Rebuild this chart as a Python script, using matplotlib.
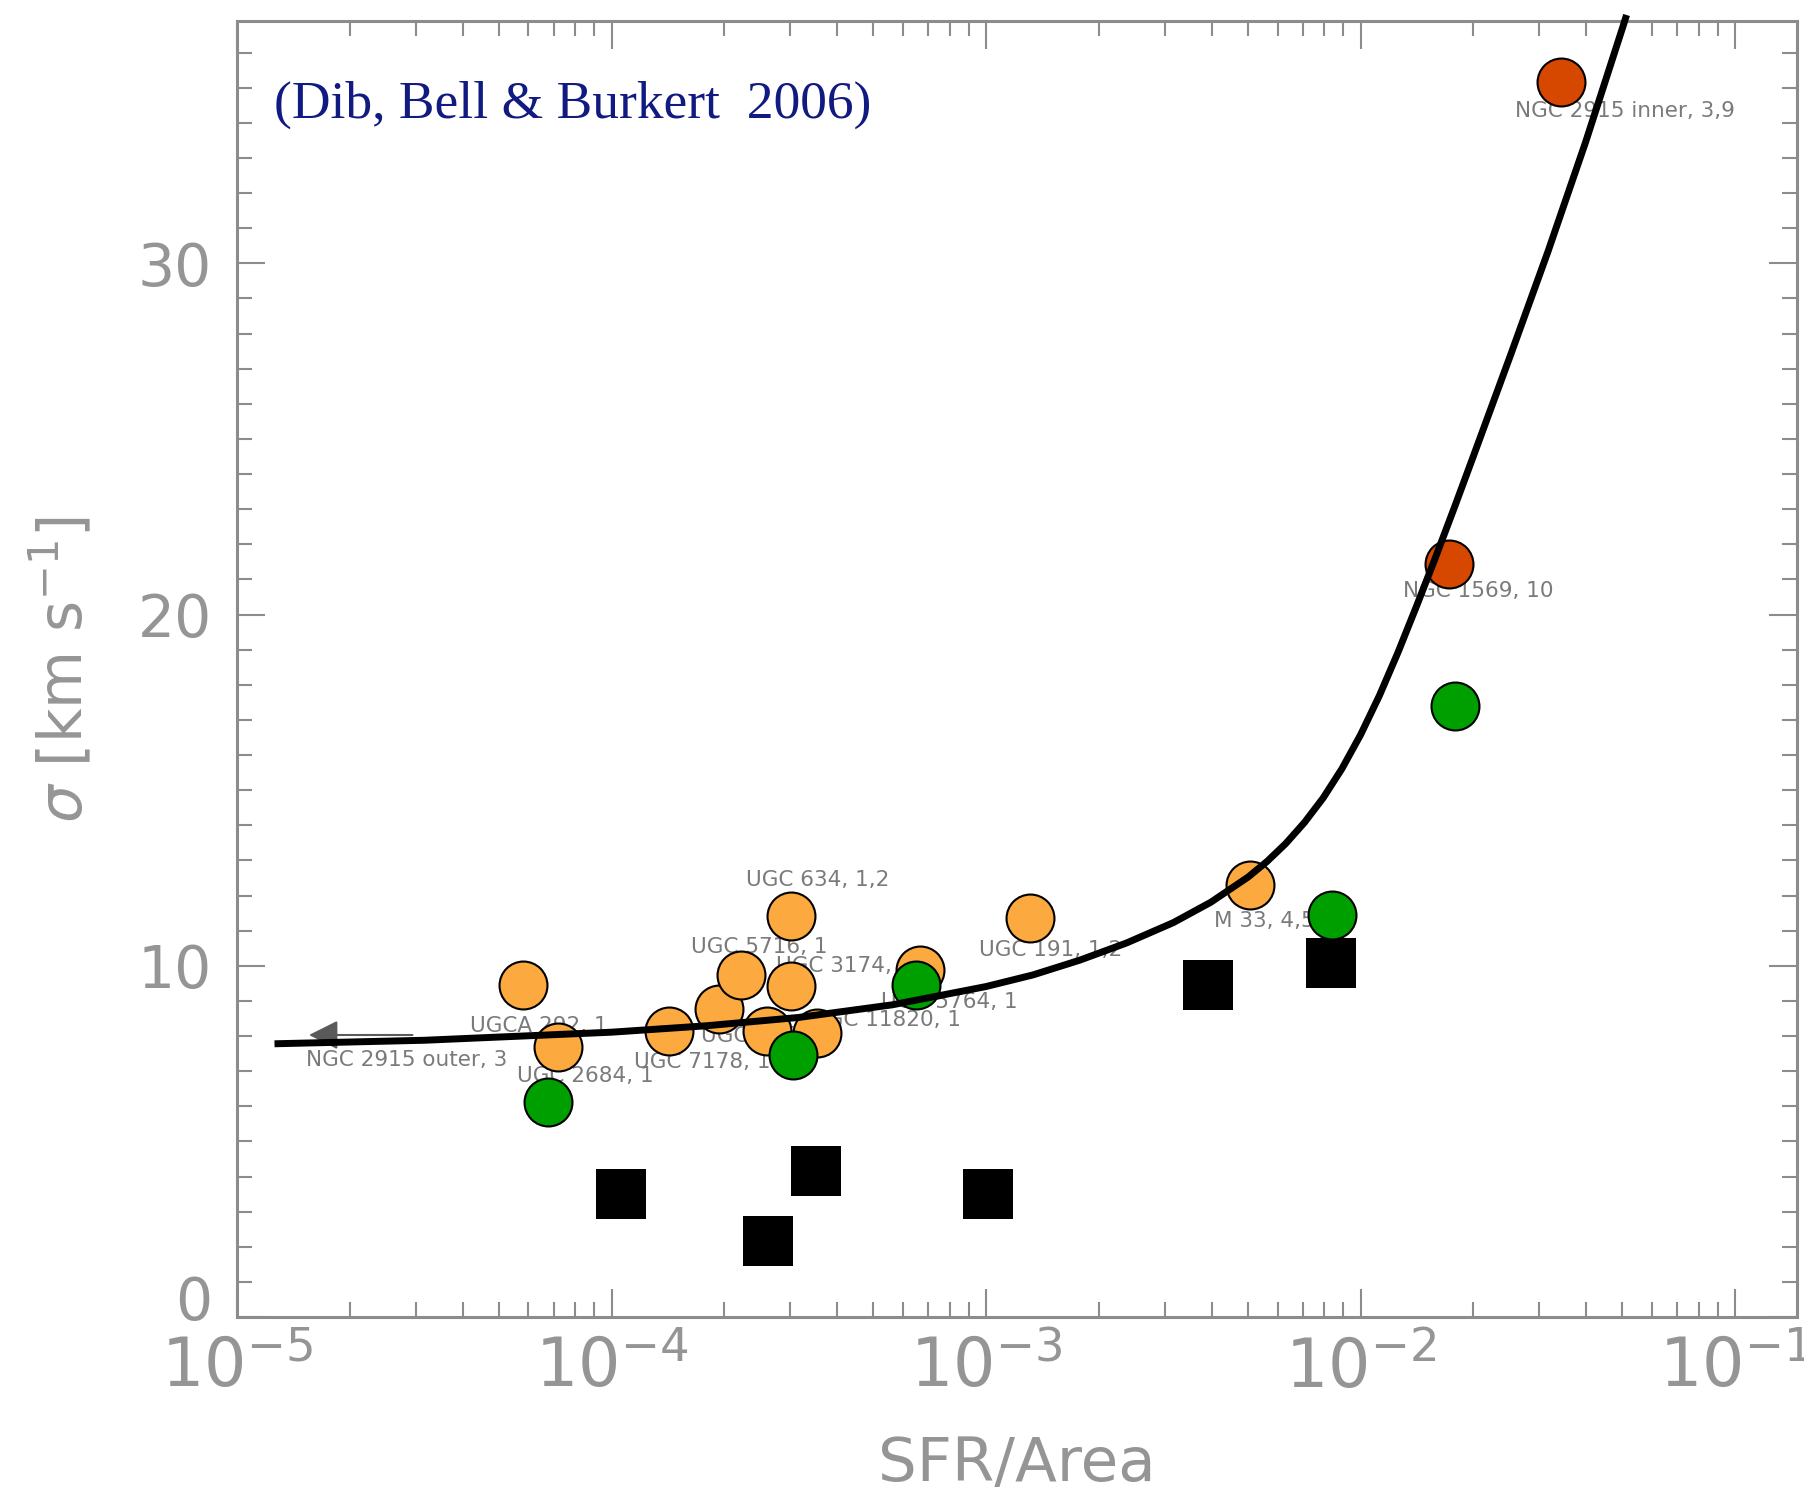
import numpy as np
import matplotlib
matplotlib.use('Agg')
import matplotlib.pyplot as plt
from matplotlib.ticker import FixedLocator, LogLocator, MultipleLocator, NullFormatter
from matplotlib.transforms import ScaledTranslation

# galaxies: SFR per area and velocity dispersion sigma [km/s]
orange_sfr = [5.79e-5, 7.2e-5, 1.42e-4, 1.93e-4, 2.22e-4, 2.6e-4, 3.01e-4, 3.01e-4,
              3.54e-4, 6.67e-4, 1.31e-3, 5.06e-3]
orange_sigma = [9.46, 7.68, 8.13, 8.77, 9.74, 8.13, 11.42, 9.43, 8.1, 9.89, 11.36, 12.29]

green_sfr = [6.75e-5, 3.05e-4, 6.5e-4, 8.39e-3, 1.786e-2]
green_sigma = [6.13, 7.46, 9.46, 11.44, 17.39]

red_sfr = [1.726e-2, 3.43e-2]
red_sigma = [21.44, 35.17]

square_sfr = [1.06e-4, 2.61e-4, 3.52e-4, 1.01e-3, 3.92e-3, 8.32e-3]
square_sigma = [3.50, 2.17, 4.15, 3.50, 9.44, 10.09]

# model curve, log10(SFR/Area) vs sigma
curve_logsfr = [-4.9, -4.5, -4.0, -3.75, -3.5, -3.25, -3.0, -2.875, -2.75, -2.625, -2.5,
                -2.4, -2.3, -2.25, -2.2, -2.15, -2.1, -2.05, -2.0, -1.95, -1.9, -1.85,
                -1.8, -1.75, -1.7, -1.6, -1.5, -1.4, -1.3, -1.29]
curve_sigma = [7.78, 7.88, 8.11, 8.29, 8.53, 8.89, 9.41, 9.74, 10.16, 10.65, 11.23,
               11.81, 12.53, 12.97, 13.48, 14.08, 14.78, 15.61, 16.58, 17.69, 18.93, 20.26,
               21.63, 23.04, 24.48, 27.38, 30.33, 33.43, 36.73, 37.07]

# upper limit arrow for NGC 2915 outer
limit_sfr_from = 2.99e-5
limit_sfr_to = 1.53e-5
limit_sigma = 8.03

# object labels (text, left x, centre y)
label_text = ['NGC 2915 inner, 3,9', 'NGC 1569, 10', 'M 33, 4,5,6,8', 'UGC 191, 1,2',
              'UGC 634, 1,2', 'UGC 5716, 1', 'UGC 3174, 1', 'UGC 5764, 1', 'UGC 11820, 1',
              'UGCA 292, 1', 'NGC 2915 outer, 3', 'UGC 2684, 1', 'UGC 7178, 1', 'UGC 4459, 1']
label_x = [2.59e-2, 1.30e-2, 4.06e-3, 9.57e-4, 2.29e-4, 1.63e-4, 2.75e-4, 5.25e-4, 3.40e-4,
           4.18e-5, 1.53e-5, 5.58e-5, 1.15e-4, 1.73e-4]
label_y = [34.33, 20.66, 11.28, 10.46, 12.45, 10.54, 10.0, 8.98, 8.47, 8.29, 7.32, 6.87,
           7.26, 8.0]

x_ticks = [1e-5, 1e-4, 1e-3, 1e-2, 1e-1]
x_ticklabels = [r'$10^{-5}$', r'$10^{-4}$', r'$10^{-3}$', r'$10^{-2}$', r'$10^{-1}$']
y_ticks = [0, 10, 20, 30]
y_ticklabels = ['0', '10', '20', '30']

gray = '#8c8c8c'
label_gray = '#959595'
plt.rcParams['mathtext.default'] = 'regular'

fig = plt.figure(figsize=(18.04, 14.98), dpi=100)
ax = fig.add_axes([0.1314, 0.1208, 0.8647, 0.8652])
ax.set_xscale('log')
ax.set_xlim(1e-5, 10 ** -0.835)
ax.set_ylim(0, 36.9)

for s in ax.spines.values():
    s.set_color(gray)
    s.set_linewidth(2.2)

ax.xaxis.set_major_locator(FixedLocator(x_ticks))
ax.set_xticklabels(x_ticklabels)
ax.xaxis.set_minor_locator(LogLocator(base=10, subs=range(2, 10)))
ax.xaxis.set_minor_formatter(NullFormatter())
ax.yaxis.set_major_locator(FixedLocator(y_ticks))
ax.set_yticklabels(y_ticklabels)
ax.yaxis.set_minor_locator(MultipleLocator(1))

ax.tick_params(which='both', direction='in', top=True, right=True, color=gray,
               width=1.5, labelcolor=label_gray)
ax.tick_params(which='major', length=20)
ax.tick_params(which='minor', length=11)
ax.tick_params(axis='x', labelsize=48, pad=13)
ax.tick_params(axis='y', labelsize=42, pad=18)

# lift the zero label off the corner
zero = ax.get_yticklabels()[0]
zero.set_transform(zero.get_transform() + ScaledTranslation(0, 0.2, fig.dpi_scale_trans))

ax.set_xlabel('SFR/Area', fontsize=44, color=label_gray, va='top')
ax.xaxis.set_label_coords(0.5, -0.091)
ax.set_ylabel(r'$\mathit{\sigma}$ [km s$^{-1}$]', fontsize=43, color=label_gray, va='center')
ax.yaxis.set_label_coords(-0.1123, 0.5)

for t, x, y in zip(label_text, label_x, label_y):
    ax.text(x, y, t, fontsize=15.5, color='#7a7a7a', ha='left', va='center', zorder=1)

ax.annotate('', xy=(limit_sfr_to, limit_sigma), xytext=(limit_sfr_from, limit_sigma),
            arrowprops=dict(arrowstyle='-|>', color='#5a5a5a', lw=1.5, mutation_scale=45),
            zorder=1)

ax.plot(square_sfr, square_sigma, 's', ms=36, color='black', mew=0, zorder=2)
ax.plot(orange_sfr, orange_sigma, 'o', ms=34.5, mfc='#FCA93F', mec='black', mew=1.5, zorder=3)
ax.plot(green_sfr, green_sigma, 'o', ms=34.5, mfc='#009F00', mec='black', mew=1.5, zorder=4)
ax.plot(red_sfr, red_sigma, 'o', ms=34.5, mfc='#D64800', mec='black', mew=1.5, zorder=4)

ax.plot(np.power(10.0, curve_logsfr), curve_sigma, color='black', lw=5, zorder=5,
        clip_on=False, solid_capstyle='butt', solid_joinstyle='round')

ax.text(0.0237, 0.935, '(Dib, Bell & Burkert  2006)', transform=ax.transAxes,
        fontsize=38.5, family='Liberation Serif', color='#101a80', ha='left', va='center')

fig.savefig('out.png', dpi=100)
